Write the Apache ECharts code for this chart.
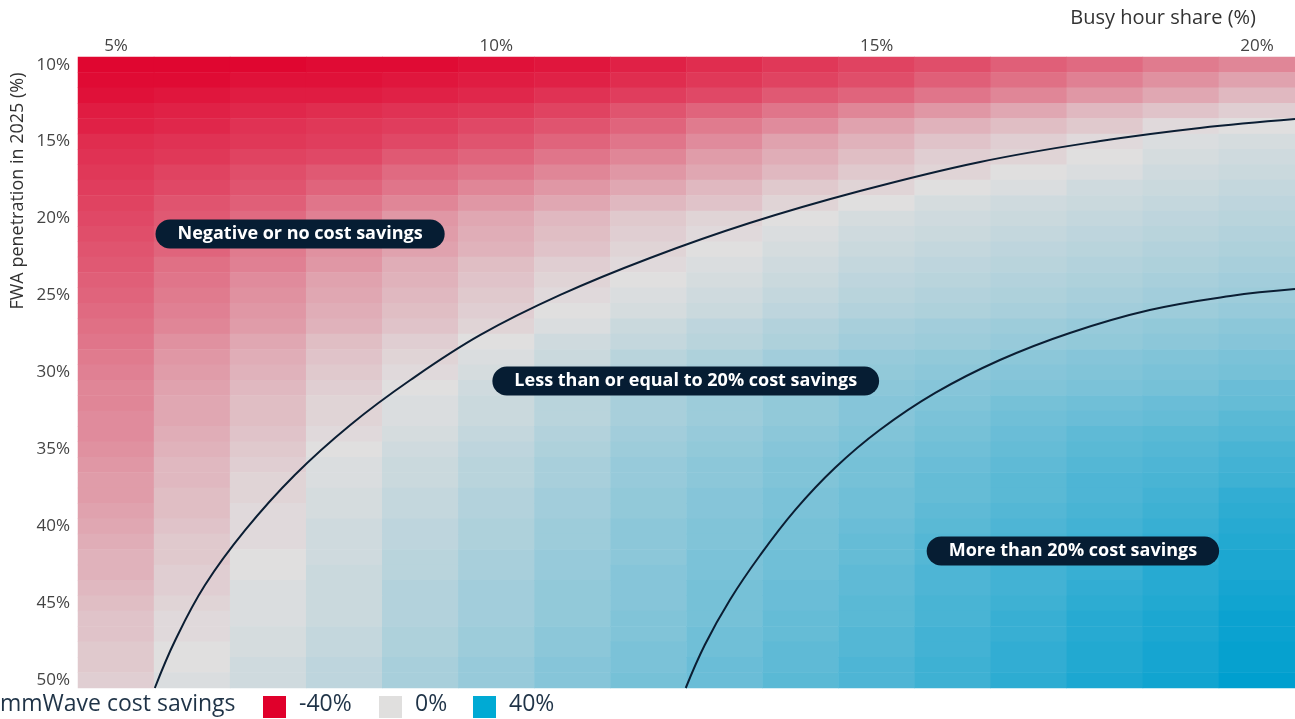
<!DOCTYPE html>
<html><head><meta charset="utf-8">
<script src="https://cdn.jsdelivr.net/npm/echarts@6/dist/echarts.min.js"></script>
<style>html,body{margin:0;padding:0;background:#fff}#c{width:1295px;height:719px}</style>
</head><body><div id="c"></div>
<script>
// Busy hour share (%) — columns
const busyHourShare = [5,6,7,8,9,10,11,12,13,14,15,16,17,18,19,20];
// FWA penetration in 2025 (%) — rows
const fwaPenetration = [10,11,12,13,14,15,16,17,18,19,20,21,22,23,24,25,26,27,28,29,30,31,32,33,34,35,36,37,38,39,40,41,42,43,44,45,46,47,48,49,50];
// mmWave cost savings (%) per row (penetration) and column (busy hour share)
const savings = [
  [-39,-39,-39,-38,-38,-37,-36,-34,-32,-30,-28,-26,-23,-21,-18,-16],
  [-38,-38,-37,-37,-36,-35,-34,-32,-30,-28,-26,-23,-20,-17,-14,-11],
  [-37,-36,-35,-35,-34,-33,-31,-29,-27,-24,-22,-19,-16,-13,-10,-7],
  [-35,-34,-33,-32,-31,-30,-28,-25,-22,-19,-16,-13,-10,-7,-5,-3],
  [-34,-33,-31,-30,-29,-27,-25,-22,-18,-15,-11,-8,-6,-4,-1,0],
  [-32,-31,-30,-29,-27,-25,-22,-19,-15,-11,-8,-5,-3,-1,1,2],
  [-31,-30,-28,-27,-24,-22,-19,-16,-12,-9,-6,-3,-2,0,2,3],
  [-30,-28,-26,-24,-21,-19,-16,-13,-10,-7,-4,-2,0,1,3,4],
  [-29,-27,-25,-22,-19,-16,-13,-10,-7,-4,-2,0,1,3,4,5],
  [-28,-25,-23,-19,-16,-13,-10,-7,-5,-2,0,2,3,4,5,6],
  [-27,-24,-21,-17,-13,-10,-7,-4,-2,0,2,3,4,5,6,7],
  [-26,-23,-20,-16,-12,-9,-6,-3,-1,1,3,4,5,6,7,8],
  [-25,-22,-18,-14,-11,-8,-5,-2,0,2,4,5,6,7,8,9],
  [-24,-20,-17,-13,-9,-6,-3,-1,1,3,5,6,7,8,9,10],
  [-23,-19,-15,-11,-8,-5,-2,0,2,4,6,7,8,9,10,11],
  [-22,-18,-14,-10,-7,-4,-1,1,3,5,7,8,9,10,11,12],
  [-21,-17,-13,-9,-6,-3,0,2,4,6,8,9,10,11,12,13],
  [-20,-16,-12,-8,-5,-2,1,4,6,8,10,11,12,13,14,15],
  [-19,-14,-10,-6,-3,0,3,5,7,9,11,12,13,14,15,16],
  [-18,-13,-9,-5,-2,1,4,7,9,11,13,14,15,16,17,18],
  [-17,-12,-8,-4,-1,2,5,8,10,12,14,15,16,17,18,19],
  [-16,-11,-7,-3,0,3,6,9,11,13,15,16,17,18,19,21],
  [-16,-10,-6,-2,1,4,7,10,12,14,16,17,19,20,21,22],
  [-15,-10,-6,-2,1,4,7,10,12,14,16,18,20,21,22,24],
  [-15,-9,-5,-1,2,5,8,11,13,15,17,19,21,23,24,25],
  [-14,-8,-4,0,3,6,9,12,14,16,18,20,22,24,25,27],
  [-13,-7,-3,1,4,7,10,13,15,17,19,21,23,25,26,28],
  [-12,-7,-2,1,4,7,10,13,15,17,19,22,24,26,27,29],
  [-12,-6,-2,2,5,8,11,14,16,18,20,22,24,26,28,31],
  [-11,-6,-1,2,5,8,11,14,16,18,20,23,25,27,29,32],
  [-10,-5,-1,3,6,9,12,15,17,19,21,24,26,28,30,33],
  [-9,-4,-1,3,6,9,12,15,17,19,22,25,27,29,31,34],
  [-8,-4,0,3,7,10,13,15,18,20,22,25,27,30,32,35],
  [-8,-3,0,4,7,10,13,16,18,20,23,26,28,30,33,35],
  [-7,-3,1,4,8,11,14,16,19,21,23,26,28,31,33,36],
  [-6,-2,1,4,8,11,14,16,19,21,24,27,29,32,34,37],
  [-5,-1,1,4,8,11,14,17,19,22,24,27,30,33,35,38],
  [-5,-1,2,5,9,12,15,17,20,22,25,28,30,33,35,38],
  [-4,0,2,5,9,12,15,18,20,23,25,28,31,34,36,39],
  [-4,0,3,6,10,13,16,18,21,23,26,29,31,34,36,39],
  [-3,1,3,6,10,13,16,19,21,24,26,29,32,35,37,40]
];
// Contour lines: [busy hour share %, FWA penetration %]
const breakEvenCurve = [[5.51,50.5],[5.78,47.38],[6.17,43.81],[6.70,40.23],[7.35,36.66],[8.08,33.41],[8.87,30.49],[9.79,27.56],[10.84,24.96],[12.02,22.56],[13.33,20.29],[14.78,18.21],[16.36,16.32],[17.94,14.96],[19.25,14.11],[20.5,13.53]];
const twentyPctCurve = [[12.49,50.5],[12.74,47.71],[13.07,44.78],[13.47,41.86],[13.93,38.93],[14.45,36.21],[15.04,33.74],[15.77,31.33],[16.62,29.19],[17.54,27.43],[18.59,25.94],[19.65,25.03],[20.5,24.58]];
// Region labels and their anchor points [busy hour share %, FWA penetration %]
const regionLabels = ['Negative or no cost savings','Less than or equal to 20% cost savings','More than 20% cost savings'];
const regionAnchors = [[7.42,21.0],[12.49,30.55],[17.58,41.6]];
const legendTitle = 'mmWave cost savings';
const legendLabels = ['-40%','0%','40%'];
const legendColors = ['#E0002B','#E0DFDE','#00AAD4'];

const heatData = [];
savings.forEach((row, r) => row.forEach((v, c) => heatData.push([c, r, v])));

const chart = echarts.init(document.getElementById('c'));
const FONT = '"Open Sans", Roboto, sans-serif';
const legendGraphics = [{
  type: 'text', left: 0, top: 693,
  style: { text: legendTitle, font: '23px ' + FONT, fill: '#1f3347' }
}];
const sqX = [263, 379, 473];
legendLabels.forEach((t, i) => {
  legendGraphics.push({ type: 'rect', shape: { x: sqX[i], y: 696, width: 23, height: 22 }, style: { fill: legendColors[i] } });
  legendGraphics.push({ type: 'text', left: sqX[i] + 36, top: 693, style: { text: t, font: '23px ' + FONT, fill: '#1f3347' } });
});

chart.setOption({
  animation: false,
  grid: { left: 78, right: 0, top: 57, bottom: 31 },
  xAxis: [{
    type: 'category', position: 'top', data: busyHourShare, gridIndex: 0,
    axisLine: { show: false }, axisTick: { show: false }, splitLine: { show: false },
    axisLabel: { interval: 4, formatter: '{value}%', color: '#444', fontSize: 17, fontFamily: FONT, margin: 2 }
  }, {
    type: 'value', position: 'top', min: 4.5, max: 20.5, show: false, gridIndex: 0
  }],
  yAxis: [{
    type: 'category', inverse: true, data: fwaPenetration,
    axisLine: { show: false }, axisTick: { show: false }, splitLine: { show: false },
    axisLabel: { interval: 4, formatter: '{value}%', color: '#444', fontSize: 17, fontFamily: FONT, margin: 8 }
  }, {
    type: 'value', inverse: true, min: 9.5, max: 50.5, show: false
  }],
  visualMap: {
    type: 'continuous', show: false, min: -40, max: 40, dimension: 2, seriesIndex: 0,
    inRange: { color: ['#E0002B', '#E0DFDF', '#009FCF'] }
  },
  graphic: [
    { type: 'text', right: 39, top: 8, style: { text: 'Busy hour share (%)', font: '20px ' + FONT, fill: '#333' } },
    { type: 'text', x: 18, y: 191, rotation: Math.PI / 2,
      style: { text: 'FWA penetration in 2025 (%)', font: '18px ' + FONT, fill: '#333', align: 'center', verticalAlign: 'middle' } }
  ].concat(legendGraphics),
  series: [{
    type: 'heatmap', data: heatData, xAxisIndex: 0, yAxisIndex: 0, itemStyle: { borderWidth: 0 }
  }, {
    type: 'line', xAxisIndex: 1, yAxisIndex: 1, data: breakEvenCurve, smooth: 0.4, showSymbol: false,
    lineStyle: { color: '#0b1e33', width: 2 }, z: 5
  }, {
    type: 'line', xAxisIndex: 1, yAxisIndex: 1, data: twentyPctCurve, smooth: 0.4, showSymbol: false,
    lineStyle: { color: '#0b1e33', width: 2 }, z: 5
  }, {
    type: 'scatter', xAxisIndex: 1, yAxisIndex: 1, symbolSize: 0, z: 10,
    itemStyle: { opacity: 1 },
    data: regionLabels.map((name, i) => ({ name, value: regionAnchors[i] })),
    label: {
      show: true, position: 'inside', formatter: '{b}', color: '#fff', fontSize: 18, fontWeight: 'bold',
      fontFamily: FONT, lineHeight: 20, backgroundColor: '#061d33', borderRadius: 15, padding: [5, 22, 4, 22], opacity: 1
    }
  }]
});
</script></body></html>
